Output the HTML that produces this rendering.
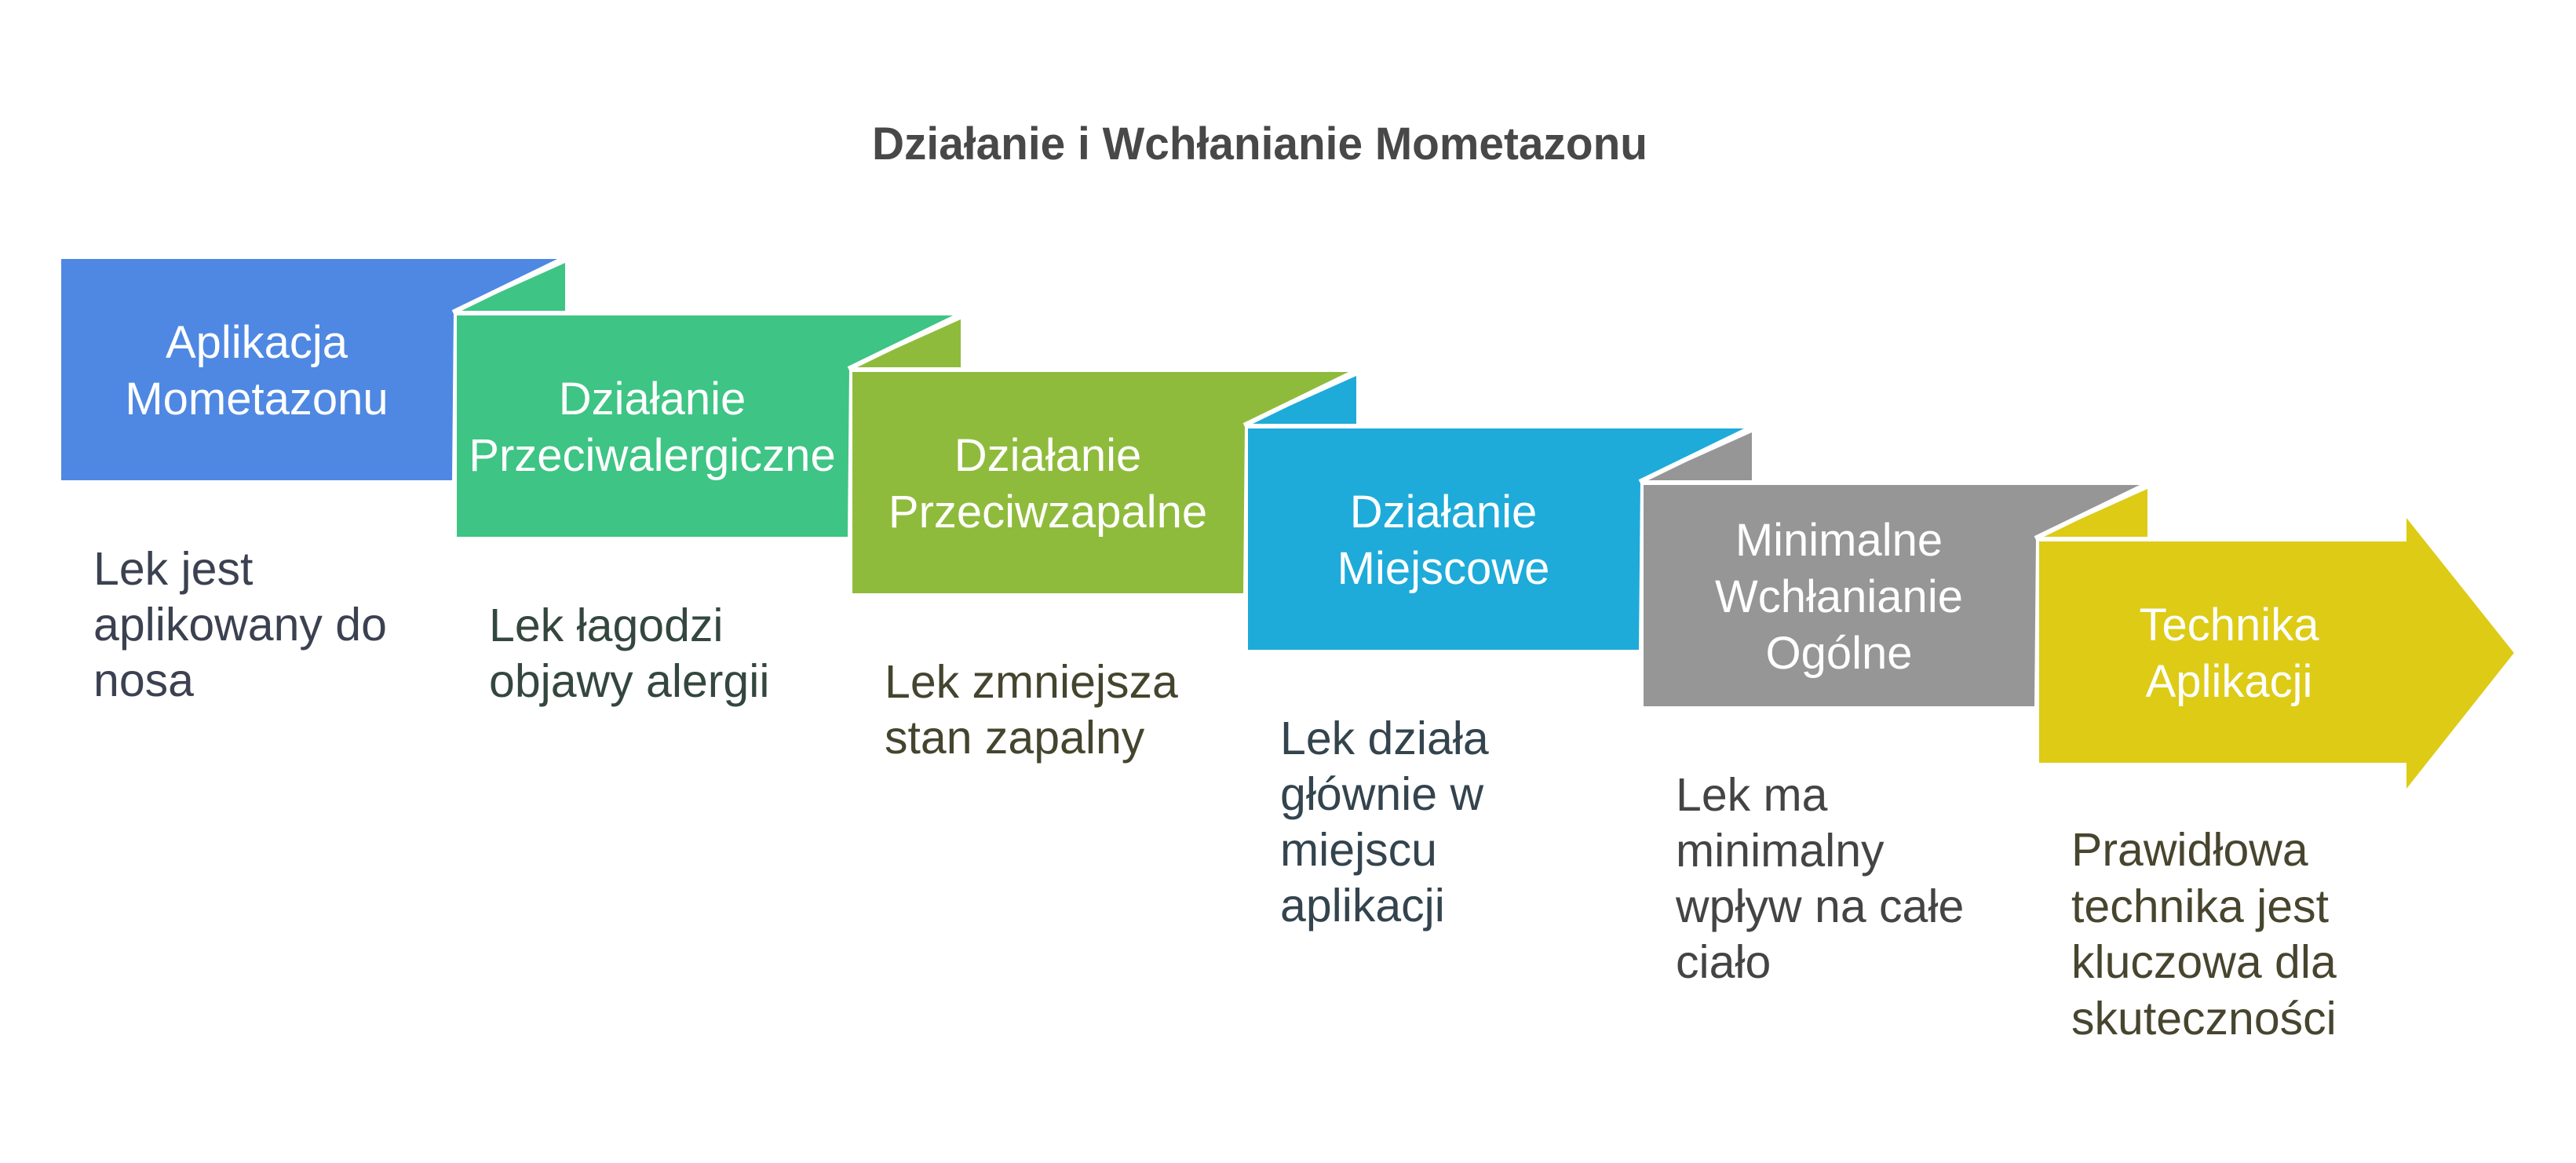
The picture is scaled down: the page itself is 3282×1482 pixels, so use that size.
<!DOCTYPE html>
<html><head><meta charset="utf-8"><style>
html,body{margin:0;padding:0;background:#fff;}
svg{display:block;}
text{font-family:"Liberation Sans",sans-serif;}
.lbl{fill:#fff;font-size:58px;text-anchor:middle;}
.d{font-size:59px;}
</style></head><body>
<svg width="3282" height="1482" viewBox="0 0 3282 1482" xmlns="http://www.w3.org/2000/svg">
<rect width="3282" height="1482" fill="#fff"/>
<text x="1605" y="203" font-size="58" font-weight="bold" fill="#484848" text-anchor="middle" textLength="988" lengthAdjust="spacingAndGlyphs">Działanie i Wchłanianie Mometazonu</text>

<polygon points="78,330 714,330 578,397 576,612 78,612" fill="#4F88E3"/>
<polygon points="584,396 720,396 720,335" fill="#3EC484"/>
<line x1="577" y1="398" x2="719" y2="329" stroke="#fff" stroke-width="6"/>
<polygon points="582,402 1218,402 1082,469 1080,684 582,684" fill="#3EC484"/>
<polygon points="1088,468 1224,468 1224,407" fill="#8FBB3C"/>
<line x1="1081" y1="470" x2="1223" y2="401" stroke="#fff" stroke-width="6"/>
<polygon points="1086,474 1722,474 1586,541 1584,756 1086,756" fill="#8FBB3C"/>
<polygon points="1592,540 1728,540 1728,479" fill="#1EABD9"/>
<line x1="1585" y1="542" x2="1727" y2="473" stroke="#fff" stroke-width="6"/>
<polygon points="1590,546 2226,546 2090,613 2088,828 1590,828" fill="#1EABD9"/>
<polygon points="2096,612 2232,612 2232,551" fill="#969696"/>
<line x1="2089" y1="614" x2="2231" y2="545" stroke="#fff" stroke-width="6"/>
<polygon points="2094,618 2730,618 2594,685 2592,900 2094,900" fill="#969696"/>
<polygon points="2600,684 2736,684 2736,623" fill="#DDCB16"/>
<line x1="2593" y1="686" x2="2735" y2="617" stroke="#fff" stroke-width="6"/>
<polygon points="2598,690 3066,690 3066,660 3203,832 3066,1005 3066,972 2598,972" fill="#DDCB16"/>

<text class="lbl"><tspan x="327" y="456">Aplikacja</tspan><tspan x="327" y="528">Mometazonu</tspan></text>
<text class="lbl"><tspan x="831" y="528">Działanie</tspan><tspan x="831" y="600">Przeciwalergiczne</tspan></text>
<text class="lbl"><tspan x="1335" y="600">Działanie</tspan><tspan x="1335" y="672">Przeciwzapalne</tspan></text>
<text class="lbl"><tspan x="1839" y="672">Działanie</tspan><tspan x="1839" y="744">Miejscowe</tspan></text>
<text class="lbl"><tspan x="2343" y="708">Minimalne</tspan><tspan x="2343" y="780">Wchłanianie</tspan><tspan x="2343" y="852">Ogólne</tspan></text>
<text class="lbl"><tspan x="2840" y="816">Technika</tspan><tspan x="2840" y="888">Aplikacji</tspan></text>

<text class="d" fill="#3b4150"><tspan x="119" y="745">Lek jest</tspan><tspan x="119" y="816">aplikowany do</tspan><tspan x="119" y="887">nosa</tspan></text>
<text class="d" fill="#34473f"><tspan x="623" y="817">Lek łagodzi</tspan><tspan x="623" y="888">objawy alergii</tspan></text>
<text class="d" fill="#45452f"><tspan x="1127" y="889">Lek zmniejsza</tspan><tspan x="1127" y="960">stan zapalny</tspan></text>
<text class="d" fill="#34444e"><tspan x="1631" y="961">Lek działa</tspan><tspan x="1631" y="1032">głównie w</tspan><tspan x="1631" y="1103">miejscu</tspan><tspan x="1631" y="1174">aplikacji</tspan></text>
<text class="d" fill="#444444"><tspan x="2135" y="1033">Lek ma</tspan><tspan x="2135" y="1104">minimalny</tspan><tspan x="2135" y="1175">wpływ na całe</tspan><tspan x="2135" y="1246">ciało</tspan></text>
<text class="d" fill="#48452f"><tspan x="2639" y="1103">Prawidłowa</tspan><tspan x="2639" y="1175">technika jest</tspan><tspan x="2639" y="1246">kluczowa dla</tspan><tspan x="2639" y="1318">skuteczności</tspan></text>
</svg>
</body></html>
